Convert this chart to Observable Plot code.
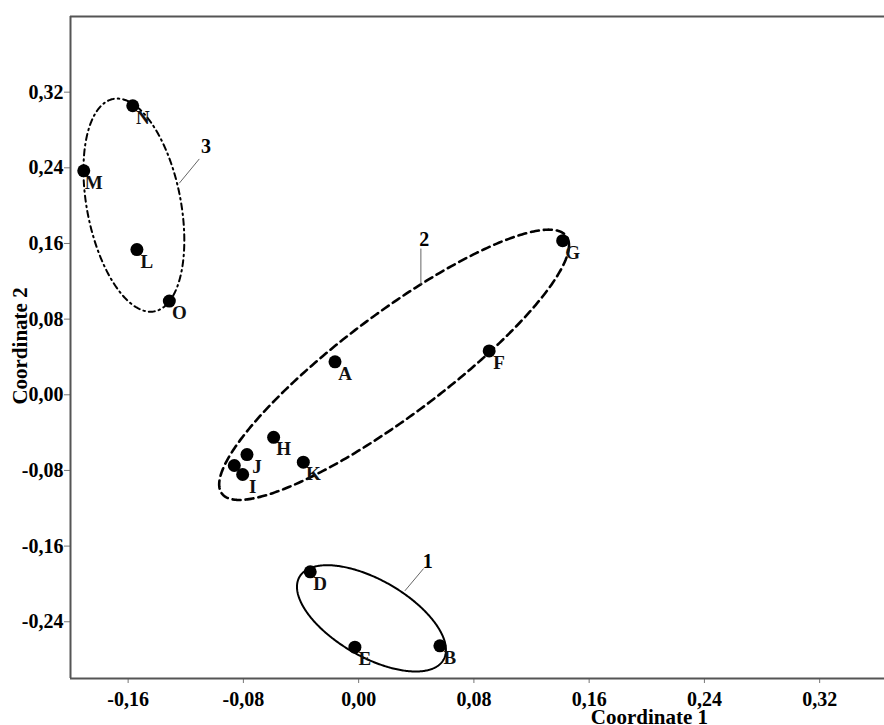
<!DOCTYPE html>
<html>
<head>
<meta charset="utf-8">
<script src="https://cdn.jsdelivr.net/npm/d3@7"></script>
<script src="https://cdn.jsdelivr.net/npm/@observablehq/plot@0.6"></script>
<style>
  html, body { margin: 0; padding: 0; background: #fff; }
  #chart svg { display: block; }
</style>
</head>
<body>
<div id="chart"></div>
<script>
// Points (PCoA coordinates)
const names  = ["A", "B", "C", "D", "E", "F", "G", "H", "I", "J", "K", "L", "M", "N", "O"];
const coord1 = [-0.0164, 0.0564, -0.0863, -0.0336, -0.0026, 0.0906, 0.1416, -0.0590, -0.0805, -0.0775, -0.0384, -0.1539, -0.1908, -0.1568, -0.1314];
const coord2 = [0.0348, -0.2655, -0.0748, -0.1872, -0.2669, 0.0464, 0.1630, -0.0450, -0.0843, -0.0632, -0.0713, 0.1535, 0.2368, 0.3056, 0.0991];
const hiddenLabels = ["C"]; // label hidden under neighbouring points

// Cluster ellipses: centre, half-width, half-height, correlation
const clusterIds = ["1", "2", "3"];
const ellCx = [0.0089, 0.0246, -0.1560];
const ellCy = [-0.2364, 0.0317, 0.2005];
const ellW  = [0.0517, 0.1214, 0.0350];
const ellH  = [0.0562, 0.1429, 0.1127];
const ellR  = [-0.593, 0.885, -0.33];

// Cluster number labels and leader lines
const clusterLabelX = [0.0479, 0.0455, -0.1060];
const clusterLabelY = [-0.1767, 0.1641, 0.2624];
const leaderX1 = [0.0451, 0.0432, -0.1106];
const leaderY1 = [-0.1837, 0.1546, 0.2494];
const leaderX2 = [0.0321, 0.0432, -0.1245];
const leaderY2 = [-0.2073, 0.1166, 0.2237];

const xTicks = [-0.16, -0.08, 0.00, 0.08, 0.16, 0.24, 0.32];
const yTicks = [-0.24, -0.16, -0.08, 0.00, 0.08, 0.16, 0.24, 0.32];
const xTitle = "Coordinate 1";
const yTitle = "Coordinate 2";

const fmt = d => d.toFixed(2).replace(".", ",");

const points = names.map((n, i) => ({name: n, x: coord1[i], y: coord2[i]}));
const labelled = points.filter(p => !hiddenLabels.includes(p.name));

function ellipsePath(i) {
  const out = [];
  const k = Math.sqrt(1 - ellR[i] * ellR[i]);
  for (let s = 0; s <= 360; s++) {
    const t = s * Math.PI / 180;
    out.push({
      x: ellCx[i] + ellW[i] * Math.cos(t),
      y: ellCy[i] + ellH[i] * (ellR[i] * Math.cos(t) + k * Math.sin(t))
    });
  }
  return out;
}

const leaders = clusterIds.map((id, i) => ({x1: leaderX1[i], y1: leaderY1[i], x2: leaderX2[i], y2: leaderY2[i]}));
const clusterLabels = clusterIds.map((id, i) => ({id, x: clusterLabelX[i], y: clusterLabelY[i]}));

const font = "'Liberation Serif', 'Times New Roman', serif";

const chart = Plot.plot({
  width: 884,
  height: 725,
  marginLeft: 70,
  marginRight: 0,
  marginTop: 16,
  marginBottom: 47,
  style: {fontFamily: font, fontSize: "20px", fontWeight: "bold", color: "#000", background: "#fff"},
  x: {domain: [-0.2, 0.365]},
  y: {domain: [-0.3, 0.4]},
  marks: [
    Plot.axisX({ticks: xTicks, tickFormat: fmt, tickSize: 5, tickPadding: 8, stroke: "#777", fill: "#000", fontSize: 20, fontWeight: "bold", label: null}),
    Plot.axisY({ticks: yTicks, tickFormat: fmt, tickSize: 6, tickPadding: 1, stroke: "#777", fill: "#000", fontSize: 20, fontWeight: "bold", label: null}),
    Plot.ruleX([-0.2], {stroke: "#555", strokeWidth: 2}),
    Plot.ruleY([-0.3], {stroke: "#555", strokeWidth: 2}),
    Plot.ruleY([0.4], {stroke: "#555", strokeWidth: 2}),
    Plot.line(ellipsePath(0), {x: "x", y: "y", stroke: "#000", strokeWidth: 2}),
    Plot.line(ellipsePath(1), {x: "x", y: "y", stroke: "#000", strokeWidth: 2.6, strokeDasharray: "8,5"}),
    Plot.line(ellipsePath(2), {x: "x", y: "y", stroke: "#000", strokeWidth: 2, strokeDasharray: "6,4,1.5,4"}),
    Plot.link(leaders, {x1: "x1", y1: "y1", x2: "x2", y2: "y2", stroke: "#666", strokeWidth: 1}),
    Plot.text(clusterLabels, {x: "x", y: "y", text: "id", fontSize: 20, fontWeight: "bold", fill: "#000"}),
    Plot.dot(points, {x: "x", y: "y", r: 6.5, fill: "#000", stroke: "none"}),
    Plot.text(labelled, {x: "x", y: "y", text: "name", dx: 10, dy: 12, fontSize: 19, fontWeight: "bold", fill: "#111"}),
    Plot.text([xTitle], {x: [0.2018], frameAnchor: "bottom", textAnchor: "middle", lineAnchor: "middle", dy: 39, text: d => d, fontSize: 21, fontWeight: "bold", fill: "#000"}),
    Plot.text([yTitle], {y: [0.0516], frameAnchor: "left", textAnchor: "middle", lineAnchor: "middle", dx: -50, rotate: -90, text: d => d, fontSize: 21, fontWeight: "bold", fill: "#000"})
  ]
});
document.getElementById("chart").appendChild(chart);
</script>
</body>
</html>
